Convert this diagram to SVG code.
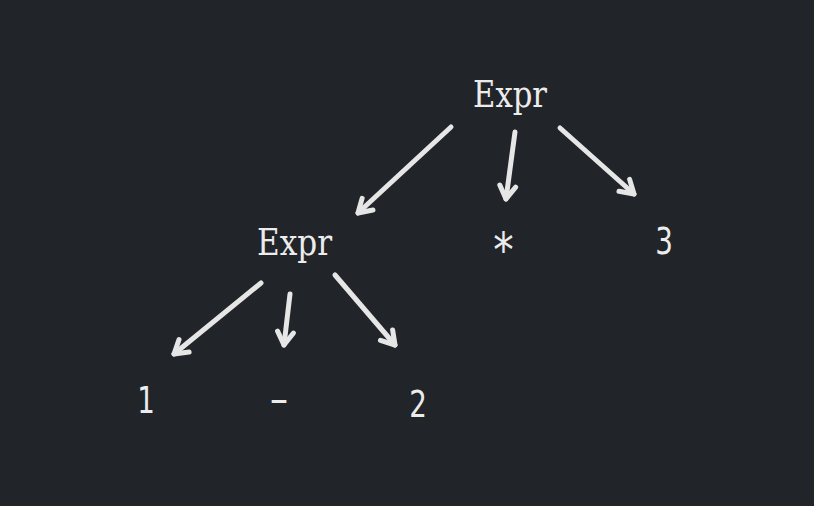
<svg xmlns="http://www.w3.org/2000/svg" width="814" height="506" viewBox="0 0 814 506">
<defs>
<marker id="ah" markerUnits="userSpaceOnUse" viewBox="-20 -14 26 28" refX="0" refY="0" markerWidth="26" markerHeight="28" orient="auto" overflow="visible">
<path d="M-13,-8 L0,0 L-13,8" fill="none" stroke="#e6e6e6" stroke-width="5" stroke-linecap="round" stroke-linejoin="round"/>
</marker>
<style>
.bg{fill:#212429}
.edge{stroke:#e6e6e6;stroke-width:5;stroke-linecap:round;fill:none;marker-end:url(#ah)}
.nt{font-family:"DejaVu Serif",serif;font-size:37px;fill:#ececec;text-anchor:middle}
.t{font-family:"DejaVu Sans","Liberation Sans",sans-serif;font-size:37px;fill:#ececec;text-anchor:middle}
</style>
</defs>
<rect class="bg" x="0" y="0" width="814" height="506"/>
<g id="connectors">
<line class="edge" x1="451" y1="127" x2="358" y2="213"/>
<line class="edge" x1="515" y1="132" x2="506" y2="199"/>
<line class="edge" x1="560" y1="128" x2="634" y2="194"/>
<line class="edge" x1="261" y1="283" x2="174" y2="354"/>
<line class="edge" x1="290" y1="294" x2="284" y2="345"/>
<line class="edge" x1="335" y1="275" x2="395" y2="345"/>
</g>
<g id="expr-root"><text class="nt" x="510" y="107" textLength="74" lengthAdjust="spacingAndGlyphs">Expr</text></g>
<g id="expr-left"><text class="nt" x="294.5" y="255" textLength="75" lengthAdjust="spacingAndGlyphs">Expr</text></g>
<g id="times"><text class="t" style="font-size:48px" transform="translate(503.5,267) scale(0.85,1)" x="0" y="0">*</text></g>
<g id="three"><text class="t" transform="translate(664,253.5) scale(0.75,1)" x="0" y="0">3</text></g>
<g id="one"><text class="t" transform="translate(146,413) scale(0.75,1)" x="0" y="0">1</text></g>
<g id="minus"><text class="t" transform="translate(279,412) scale(1.5,1)" x="0" y="0">-</text></g>
<g id="two"><text class="t" transform="translate(418,417) scale(0.75,1)" x="0" y="0">2</text></g>
</svg>
